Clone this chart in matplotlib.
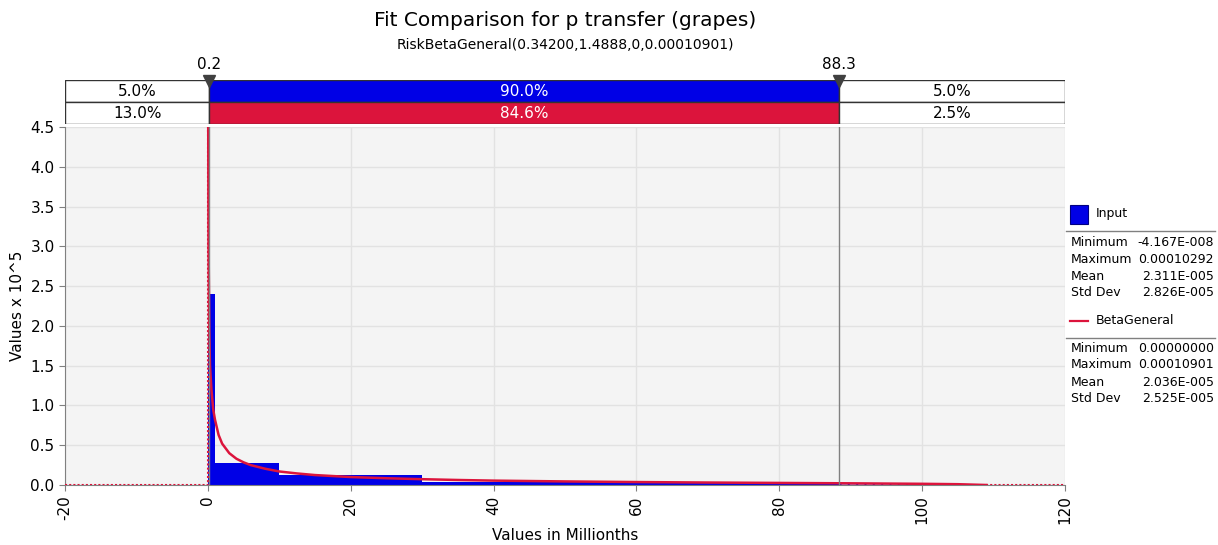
import matplotlib
matplotlib.use("Agg")
import matplotlib.pyplot as plt
from matplotlib.patches import Rectangle
from matplotlib.lines import Line2D

plt.rcParams['font.family'] = ['DejaVu Sans']
plt.rcParams['axes.unicode_minus'] = False

# ---- data ----
bin_left = [0.0, 0.97, 10.0, 30.0]
bin_right = [0.97, 10.0, 30.0, 88.3]
bin_height = [2.40, 0.28, 0.125, 0.042]
tail_left = [88.3]
tail_right = [103.0]
tail_height = [0.030]

curve_x = [0.02, 0.05, 0.1, 0.2, 0.3, 0.5, 0.75, 1, 1.5, 2, 3, 4, 5, 6, 8, 10,
           12.5, 15, 20, 25, 30, 35, 40, 50, 60, 70, 80, 90, 100, 105, 109]
curve_y = [6.0, 4.5, 3.0, 1.95, 1.5, 1.2, 0.95, 0.82, 0.63, 0.52, 0.40, 0.33,
           0.285, 0.25, 0.205, 0.17, 0.145, 0.125, 0.10, 0.085, 0.073, 0.063,
           0.055, 0.045, 0.037, 0.031, 0.026, 0.021, 0.015, 0.01, 0.0]
outside_left_x = [-20, 0, 0]
outside_left_y = [0, 0, 4.5]
outside_right_x = [109, 120]
outside_right_y = [0, 0]

delim = [0.2, 88.3]
delim_labels = ["0.2", "88.3"]
input_pct = ["5.0%", "90.0%", "5.0%"]
fit_pct = ["13.0%", "84.6%", "2.5%"]

input_stats = [("Minimum", "-4.167E-008"), ("Maximum", "0.00010292"),
               ("Mean", "2.311E-005"), ("Std Dev", "2.826E-005")]
fit_stats = [("Minimum", "0.00000000"), ("Maximum", "0.00010901"),
             ("Mean", "2.036E-005"), ("Std Dev", "2.525E-005")]

title = "Fit Comparison for p transfer (grapes)"
subtitle = "RiskBetaGeneral(0.34200,1.4888,0,0.00010901)"

BLUE = "#0000E6"
RED = "#DC143C"
GRAY = "#808080"

W, H = 1218, 545
fig = plt.figure(figsize=(W / 100, H / 100), dpi=100)

def fx(px):
    return px / W

def fy(py):
    return 1 - py / H

# main axes
ax = fig.add_axes([fx(65), fy(485), fx(1065) - fx(65), fy(127) - fy(485)])
ax.set_facecolor("#F4F4F4")
ax.set_xlim(-20, 120)
ax.set_ylim(0, 4.5)
ax.set_xticks(range(-20, 121, 20))
ax.set_yticks([i * 0.5 for i in range(10)])
ax.set_yticklabels([f"{i * 0.5:.1f}" for i in range(10)])
ax.grid(True, color="#E2E2E2", lw=1)
ax.set_axisbelow(True)
for s in ["top", "right"]:
    ax.spines[s].set_visible(False)
for s in ["left", "bottom"]:
    ax.spines[s].set_color(GRAY)
ax.tick_params(axis="both", colors=GRAY, labelcolor="black", labelsize=11, length=4)
ax.tick_params(axis="x", labelrotation=90)
ax.set_xlabel("Values in Millionths", fontsize=11)
ax.set_ylabel("Values x 10^5", fontsize=11)
ax.xaxis.set_label_coords(0.5, (485 - 536) / (485 - 127) * 1.0, transform=None) if False else None
ax.xaxis.set_label_coords(0.5, -(536 - 485) / (485 - 127))
ax.xaxis.label.set_va("center")
ax.yaxis.set_label_coords(-(65 - 18) / 1000, 0.5)
ax.yaxis.label.set_va("center")

ax.bar(bin_left, bin_height, width=[r - l for l, r in zip(bin_left, bin_right)],
       align="edge", color=BLUE, edgecolor="none", zorder=2)
ax.bar(tail_left, tail_height, width=[r - l for l, r in zip(tail_left, tail_right)],
       align="edge", facecolor="#9090F0", edgecolor=BLUE, hatch="////", lw=0, zorder=2)

ax.plot(curve_x, curve_y, color=RED, lw=1.8, zorder=4, clip_on=True)
ax.plot(outside_left_x, outside_left_y, color=RED, lw=1.5, ls=(0, (1, 1)), zorder=4)
ax.plot(outside_right_x, outside_right_y, color=RED, lw=1.5, ls=(0, (1, 1)), zorder=4)

for d in delim:
    ax.axvline(d, color=GRAY, lw=1, zorder=5)

# band axes
bx = fig.add_axes([fx(65), fy(124), fx(1065) - fx(65), fy(80) - fy(124)])
bx.set_xlim(-20, 120)
bx.set_ylim(0, 2)
bx.axis("off")
edges = [-20, delim[0], delim[1], 120]
for i in range(3):
    l, r = edges[i], edges[i + 1]
    mid = i == 1
    bx.add_patch(Rectangle((l, 1), r - l, 1, facecolor=BLUE if mid else "white",
                           edgecolor="#333333", lw=1))
    bx.add_patch(Rectangle((l, 0), r - l, 1, facecolor=RED if mid else "white",
                           edgecolor="#333333", lw=1))
    bx.text((l + r) / 2, 1.5, input_pct[i], ha="center", va="center", fontsize=11,
            color="white" if mid else "black")
    bx.text((l + r) / 2, 0.5, fit_pct[i], ha="center", va="center", fontsize=11,
            color="white" if mid else "black")
for d, lab in zip(delim, delim_labels):
    bx.plot([d], [1.95], marker="v", color="#404040", markersize=8, clip_on=False, zorder=6)
    bx.text(d, 2.35, lab, ha="center", va="bottom", fontsize=11)

# titles
fig.text(0.5 * (fx(65) + fx(1065)), fy(20), title, ha="center", va="center", fontsize=14.5)
fig.text(0.5 * (fx(65) + fx(1065)), fy(45), subtitle, ha="center", va="center", fontsize=10)

# legend panel
LFS = 9
fig.patches.append(Rectangle((fx(1070), fy(224)), fx(18), fy(205) - fy(224),
                             transform=fig.transFigure, facecolor=BLUE,
                             edgecolor="#000080", lw=0.8))
fig.text(fx(1096), fy(214), "Input", va="center", fontsize=LFS)
fig.lines.append(Line2D([fx(1066), fx(1215)], [fy(231), fy(231)],
                        transform=fig.transFigure, color=GRAY, lw=1))
for i, (lab, val) in enumerate(input_stats):
    y = fy(242 + 17 * i)
    fig.text(fx(1071), y, lab, va="center", fontsize=LFS)
    fig.text(fx(1214), y, val, va="center", ha="right", fontsize=LFS)

fig.lines.append(Line2D([fx(1070), fx(1088)], [fy(321), fy(321)],
                        transform=fig.transFigure, color=RED, lw=1.6))
fig.text(fx(1096), fy(321), "BetaGeneral", va="center", fontsize=LFS)
fig.lines.append(Line2D([fx(1066), fx(1215)], [fy(338), fy(338)],
                        transform=fig.transFigure, color=GRAY, lw=1))
for i, (lab, val) in enumerate(fit_stats):
    y = fy(348 + 17 * i)
    fig.text(fx(1071), y, lab, va="center", fontsize=LFS)
    fig.text(fx(1214), y, val, va="center", ha="right", fontsize=LFS)

fig.savefig("out.png", dpi=100)
